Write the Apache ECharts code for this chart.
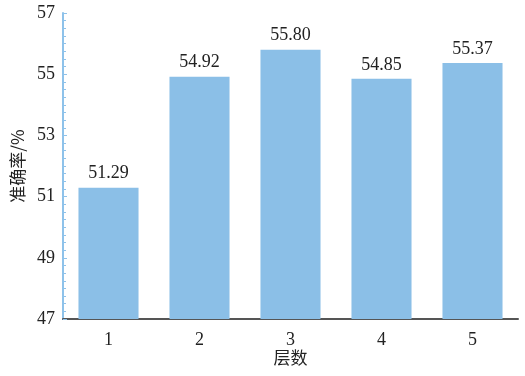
<!DOCTYPE html>
<html><head><meta charset="utf-8">
<script src="https://cdn.jsdelivr.net/npm/echarts@6/dist/echarts.min.js"></script>
<style>html,body{margin:0;padding:0;background:#fff}#c{width:525px;height:376px}</style>
</head><body><div id="c"></div>
<script>
const categories = ['1','2','3','4','5'];
const accuracy = [51.29, 54.92, 55.80, 54.85, 55.37];
const chart = echarts.init(document.getElementById('c'));
const serif = '"Liberation Serif","DejaVu Serif",serif';
chart.setOption({
  animation: false,
  grid: {left: 63, right: 7, top: 13, bottom: 57, containLabel: false, outerBoundsMode: 'none'},
  xAxis: {
    type: 'category', data: categories,
    name: '层数', nameLocation: 'middle', nameGap: 30, nameMoveOverlap: false,
    nameTextStyle: {fontFamily: '"Noto Sans CJK SC"', fontSize: 17, color: '#222'},
    axisLine: {lineStyle: {color: '#555', width: 2}},
    axisTick: {show: false},
    axisLabel: {fontFamily: serif, fontSize: 18, color: '#222', margin: 12}
  },
  yAxis: {
    type: 'value', min: 47, max: 57, interval: 2,
    name: '准确率/%', nameLocation: 'middle', nameGap: 36,
    nameTextStyle: {fontFamily: '"Noto Sans CJK SC"', fontSize: 17, color: '#222'},
    axisLine: {show: true, lineStyle: {color: '#8ec2ea', width: 2}},
    axisTick: {show: true, inside: true, length: 4, lineStyle: {color: '#8ec2ea'}},
    minorTick: {show: true, splitNumber: 8, length: 3, lineStyle: {color: '#8ec2ea'}},
    splitLine: {show: false},
    axisLabel: {fontFamily: serif, fontSize: 18, color: '#222', margin: 8}
  },
  series: [{
    type: 'bar', data: accuracy, barWidth: '66%',
    itemStyle: {color: '#8bbfe7'},
    label: {show: true, position: 'top', distance: 5, fontFamily: serif, fontSize: 18, color: '#222',
      formatter: p => p.value.toFixed(2)}
  }]
});
</script></body></html>
